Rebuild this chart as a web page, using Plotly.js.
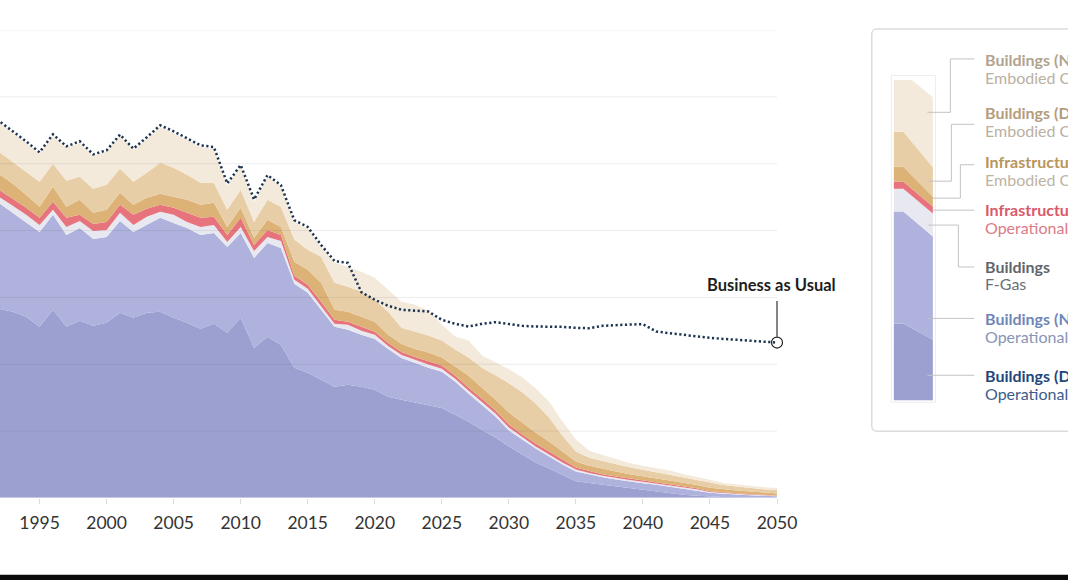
<!DOCTYPE html>
<html>
<head>
<meta charset="utf-8">
<script src="https://cdn.plot.ly/plotly-3.0.1.min.js"></script>
<style>
html,body{margin:0;padding:0;background:#fff;overflow:hidden;}
#chart{width:1068px;height:580px;}
</style>
</head>
<body>
<div id="chart"></div>
<script>
// ---------- DATA (one gridline = 20 units) ----------
const years = [1990,1991,1992,1993,1994,1995,1996,1997,1998,1999,
  2000,2001,2002,2003,2004,2005,2006,2007,2008,2009,
  2010,2011,2012,2013,2014,2015,2016,2017,2018,2019,
  2020,2021,2022,2023,2024,2025,2026,2027,2028,2029,
  2030,2031,2032,2033,2034,2035,2036,2037,2038,2039,
  2040,2041,2042,2043,2044,2045,2046,2047,2048,2049,2050];

const buildingsDomesticOperational = [59.3,57.8,56.6,55.7,54.2,51.2,56.3,51.2,53.0,51.5,
  52.4,55.4,53.9,55.4,55.7,53.9,52.4,50.6,52.1,49.4,
  53.9,44.9,48.2,45.8,39.0,37.5,35.4,33.3,33.9,33.3,
  32.4,30.3,29.4,28.5,27.8,26.9,24.9,22.8,20.4,18.1,
  15.4,13.0,10.6,8.8,6.9,5.0,4.5,4.0,3.4,2.8,
  2.4,1.9,1.3,1.0,0.7,0.4,0.3,0.2,0.15,0.1,0.05];

const buildingsNonDomesticOperational = [32.8,32.2,31.6,29.6,28.4,28.4,28.4,27.5,27.8,26.0,
  25.7,27.5,25.7,26.3,28.1,28.4,28.4,28.1,27.2,25.7,
  25.4,26.9,28.1,29.0,25.1,23.9,20.9,17.9,16.4,15.5,
  15.2,14.3,12.5,11.9,11.2,10.9,9.9,8.4,7.5,6.3,
  4.8,4.5,4.2,3.6,3.1,2.9,2.5,2.2,2.1,2.1,
  2.0,2.1,2.1,1.8,1.6,1.2,1.0,0.8,0.7,0.6,0.5];

const buildingsFGas = [2.1,2.1,1.8,2.1,2.1,2.1,1.5,2.4,2.1,2.4,
  2.1,2.4,2.1,2.4,1.8,2.4,1.8,2.4,2.4,1.5,
  1.8,2.1,1.8,2.1,1.2,1.2,0.9,0.9,1.5,1.2,
  1.2,0.9,0.9,0.9,0.9,0.9,0.9,0.9,0.9,0.9,
  0.9,0.75,0.6,0.6,0.6,0.6,0.45,0.45,0.45,0.45,
  0.45,0.3,0.3,0.3,0.3,0.2,0.2,0.18,0.15,0.12,0.12];

const infrastructureOperational = [2.1,2.1,2.1,2.1,2.1,2.1,2.4,2.7,1.8,2.1,
  2.4,2.4,3.0,2.4,2.1,2.1,2.7,2.7,2.4,2.1,
  2.7,1.8,2.1,1.8,1.2,1.2,1.5,1.2,0.9,1.2,
  0.9,0.9,0.9,0.9,0.9,0.9,0.9,0.9,0.9,0.9,
  0.9,0.75,0.9,0.9,0.75,0.6,0.6,0.45,0.45,0.45,
  0.3,0.3,0.3,0.3,0.3,0.24,0.2,0.18,0.15,0.12,0.1];

const infrastructureEmbodied = [5.4,5.1,4.8,4.5,3.9,3.3,4.5,3.3,4.5,3.3,
  3.6,3.6,3.0,3.3,3.3,3.3,3.9,3.9,4.2,2.4,
  3.0,2.1,3.0,2.4,4.2,4.5,5.7,3.0,3.0,3.0,
  3.0,2.4,2.4,2.4,2.7,2.4,2.7,3.6,3.3,3.3,
  3.6,3.6,3.3,3.0,2.5,1.8,1.6,1.6,1.5,1.3,
  1.2,1.2,1.2,1.2,1.0,1.0,0.9,0.85,0.8,0.7,0.6];

const buildingsDomesticEmbodied = [6.9,6.9,6.6,6.6,6.9,7.5,6.9,7.8,6.9,7.2,
  7.5,7.2,6.9,7.5,9.3,8.7,7.5,6.6,6.0,5.1,
  5.4,4.8,6.0,6.0,6.6,6.0,7.8,8.1,7.5,7.5,
  6.6,6.9,4.8,5.1,5.1,5.1,5.1,5.4,6.0,7.2,
  8.7,9.0,8.7,7.2,4.8,3.0,2.4,2.4,2.2,2.1,
  2.1,1.9,1.8,1.6,1.6,1.5,1.3,1.2,1.0,1.0,1.0];

const buildingsNonDomesticEmbodied = [8.4,8.4,8.7,8.7,8.7,8.4,8.4,9.9,10.1,9.9,
  9.9,9.9,9.6,10.1,10.7,10.4,10.4,10.7,10.1,7.2,
  6.9,6.0,6.9,6.0,5.4,6.3,3.0,6.0,6.0,6.0,
  6.6,6.6,7.8,8.1,7.5,4.8,3.9,5.1,3.6,3.9,
  4.2,4.5,4.5,4.8,4.2,3.6,2.1,1.8,1.6,1.3,
  1.2,1.2,1.2,1.0,0.9,0.9,0.6,0.6,0.6,0.6,0.65];

const businessAsUsual = [117.5,115.1,112.7,109.7,106.7,103.4,108.8,105.2,106.7,102.8,
  104.0,108.7,104.5,107.9,111.5,109.7,107.5,105.5,105.0,94.1,
  99.6,89.3,96.6,93.6,83.1,81.1,75.7,70.9,70.3,61.6,
  59.3,57.5,56.3,56.0,55.8,53.3,52.1,51.3,52.1,52.6,
  52.1,51.5,51.3,51.3,51.2,50.9,50.8,51.5,51.8,51.9,
  52.0,49.8,49.3,48.8,48.4,47.9,47.6,47.3,47.0,46.7,46.5];

const yGridValues = [0,20,40,60,80,100,120,140];
const xTickValues = [1990,1995,2000,2005,2010,2015,2020,2025,2030,2035,2040,2045,2050];

const legendItems = [
  {bold:'Buildings (Non-Domestic)', sub:'Embodied Carbon', boldColor:'#b1a38d', subColor:'#bab0a2'},
  {bold:'Buildings (Domestic)', sub:'Embodied Carbon', boldColor:'#b49d7c', subColor:'#bab0a2'},
  {bold:'Infrastructure', sub:'Embodied Carbon', boldColor:'#b8955c', subColor:'#bdb3a4'},
  {bold:'Infrastructure', sub:'Operational Carbon', boldColor:'#d85a6b', subColor:'#dd7a87'},
  {bold:'Buildings', sub:'F-Gas', boldColor:'#62666c', subColor:'#6c7076'},
  {bold:'Buildings (Non-Domestic)', sub:'Operational Carbon', boldColor:'#6f86b8', subColor:'#8894b6'},
  {bold:'Buildings (Domestic)', sub:'Operational Carbon', boldColor:'#23467a', subColor:'#3d5c8c'}
];

// ---------- STYLE ----------
const colors = {
  domOp:'#9ba0d0', nonDomOp:'#aeb2dd', fgas:'#e8e8f0', infraOp:'#e7737d',
  infraEmb:'#dcb277', domEmb:'#e8cea6', nonDomEmb:'#f4eadb', bau:'#1d3451'
};
const FONT = 'Lato, "Open Sans", sans-serif';

// pixel -> paper helpers (plot area: x 0..776.7, y 29.5..498.5)
const PL = 0, PR = 776.7, PT = 29.5, PB = 498.5;
const px = x => (x - PL) / (PR - PL);
const py = y => (PB - y) / (PB - PT);
const pathOf = (pts, close) => pts.map((p,i)=>(i?'L':'M')+px(p[0]).toFixed(5)+','+py(p[1]).toFixed(5)).join('') + (close?'Z':'');

function area(name, y, color){
  return {x: years, y: y, name: name, type:'scatter', mode:'lines', stackgroup:'one',
    line:{width:0, color:color}, fillcolor:color, hoverinfo:'skip'};
}

const traces = [
  area('Buildings (Domestic) Operational Carbon', buildingsDomesticOperational, colors.domOp),
  area('Buildings (Non-Domestic) Operational Carbon', buildingsNonDomesticOperational, colors.nonDomOp),
  area('Buildings F-Gas', buildingsFGas, colors.fgas),
  area('Infrastructure Operational Carbon', infrastructureOperational, colors.infraOp),
  area('Infrastructure Embodied Carbon', infrastructureEmbodied, colors.infraEmb),
  area('Buildings (Domestic) Embodied Carbon', buildingsDomesticEmbodied, colors.domEmb),
  area('Buildings (Non-Domestic) Embodied Carbon', buildingsNonDomesticEmbodied, colors.nonDomEmb),
  {x: years, y: businessAsUsual, name:'Business as Usual', type:'scatter', mode:'lines',
   line:{color:colors.bau, width:2.5, dash:'2.2px,2.5px'}, hoverinfo:'skip'},
  {x:[years[years.length-1]], y:[businessAsUsual[businessAsUsual.length-1]], type:'scatter', mode:'markers',
   cliponaxis:false, marker:{symbol:'circle-open', size:11, color:'#222', line:{width:1.2, color:'#222'}}, hoverinfo:'skip'}
];

const shapes = [];
// gridlines drawn above the areas (as in the reference)
yGridValues.slice(1).forEach(v => shapes.push({type:'line', xref:'paper', yref:'y', x0:0, x1:1, y0:v, y1:v,
  line:{color:'rgba(60,60,80,0.09)', width:1}, layer:'above'}));
// baseline
shapes.push({type:'line', xref:'paper', yref:'y', x0:0, x1:1, y0:0, y1:0, line:{color:'#d4d6ec', width:1.5}, layer:'above'});
// Business as Usual pointer line
shapes.push({type:'line', xref:'paper', yref:'paper', x0:1, x1:1, y0:py(301), y1:py(337),
  line:{color:'#333', width:1.2}});

// legend frame (rounded rect, runs off the right edge)
(function(){
  const x0=871.5, x1=1100, y0=28.5, y1=431.5, r=5;
  const P = (x,y)=>px(x).toFixed(5)+','+py(y).toFixed(5);
  const d = 'M'+P(x0+r,y0)+' L'+P(x1,y0)+' L'+P(x1,y1)+' L'+P(x0+r,y1)+' Q'+P(x0,y1)+' '+P(x0,y1-r)+
            ' L'+P(x0,y0+r)+' Q'+P(x0,y0)+' '+P(x0+r,y0)+' Z';
  shapes.push({type:'path', xref:'paper', yref:'paper', path:d, line:{color:'#c9c9c9', width:1}, fillcolor:'rgba(0,0,0,0)'});
})();

// legend icon (mini stack)
shapes.push({type:'rect', xref:'paper', yref:'paper', x0:px(891), x1:px(935), y0:py(75), y1:py(402.5),
  line:{color:'#ececec', width:1}, fillcolor:'#fff'});
const iconL = 893.5, iconR = 932.5, iconBottom = 400.5;
const bounds = [ // top boundary of each layer in icon: [leftY, rightY, breakX]
  [323.5, 340, 903],   // domOp top
  [211.5, 236.5, 903], // nonDomOp top
  [188.5, 213.5, 903], // fgas top
  [181.5, 206.5, 903], // infraOp top
  [166.5, 196.5, 903], // infraEmb top
  [131.5, 167, 903],   // domEmb top
  [79.5, 97, 911.5]    // nonDomEmb top
];
const iconColors = [colors.domOp, colors.nonDomOp, colors.fgas, colors.infraOp, colors.infraEmb, colors.domEmb, colors.nonDomEmb];
bounds.forEach((b,i)=>{
  const top = [[iconL,b[0]],[b[2],b[0]],[iconR,b[1]]];
  let bottom;
  if(i===0){ bottom = [[iconR,iconBottom],[iconL,iconBottom]]; }
  else { const p = bounds[i-1]; bottom = [[iconR,p[1]],[p[2],p[0]],[iconL,p[0]]]; }
  shapes.push({type:'path', xref:'paper', yref:'paper', path:pathOf(top.concat(bottom), true),
    line:{width:0}, fillcolor:iconColors[i]});
});

// connectors
const connectorPaths = [
  [[927,112],[950,112],[950,58.5],[974,58.5]],
  [[927,181],[951,181],[951,124],[974,124]],
  [[932,198],[960,198],[960,164.5],[974,164.5]],
  [[932,210],[974,210]],
  [[928,225],[958,225],[958,267],[974,267]],
  [[927,318.5],[974,318.5]],
  [[927,375.5],[974,375.5]]
];
connectorPaths.forEach(c => shapes.push({type:'path', xref:'paper', yref:'paper', path:pathOf(c,false),
  line:{color:'#c3c3c3', width:1}}));

// bottom black band
shapes.push({type:'rect', xref:'paper', yref:'paper', x0:px(-10), x1:px(1080), y0:py(575.5), y1:py(590),
  line:{width:0}, fillcolor:'#0b0b0b'});

// annotations
const annotations = [
  {xref:'paper', yref:'paper', x:px(771), y:py(285), text:'<b>Business as Usual</b>', showarrow:false,
   xanchor:'center', yanchor:'middle', font:{family:FONT, size:16.5, color:'#1e1e1e'}}
];
const labelRows = [[59,77],[112,130],[161,179],[209,227],[267,284],[319,337],[376,394]];
legendItems.forEach((it,i)=>{
  annotations.push({xref:'paper', yref:'paper', x:px(983), y:py(labelRows[i][0]), text:'<b>'+it.bold+'</b>',
    showarrow:false, xanchor:'left', yanchor:'middle', font:{family:FONT, size:16, color:it.boldColor}});
  annotations.push({xref:'paper', yref:'paper', x:px(983), y:py(labelRows[i][1]), text:it.sub,
    showarrow:false, xanchor:'left', yanchor:'middle', font:{family:FONT, size:16, color:it.subColor}});
});

const layout = {
  width:1068, height:580,
  margin:{l:PL, r:1068-PR, t:PT, b:580-PB, pad:0},
  paper_bgcolor:'#ffffff', plot_bgcolor:'#ffffff',
  showlegend:false,
  xaxis:{range:[1992.05, 2050], tickmode:'array', tickvals:xTickValues, ticktext:xTickValues.map(String),
    ticks:'outside', ticklen:5, tickcolor:'#dddddd', tickwidth:1, showgrid:false, zeroline:false, showline:false,
    ticklabelstandoff:4,
    tickfont:{family:FONT, size:17.5, color:'#333'}, fixedrange:true},
  yaxis:{range:[0,140], showgrid:false, zeroline:false, showticklabels:false, ticks:'', fixedrange:true},
  shapes:shapes, annotations:annotations
};

Plotly.newPlot('chart', traces, layout, {displayModeBar:false, staticPlot:true});
</script>
</body>
</html>
